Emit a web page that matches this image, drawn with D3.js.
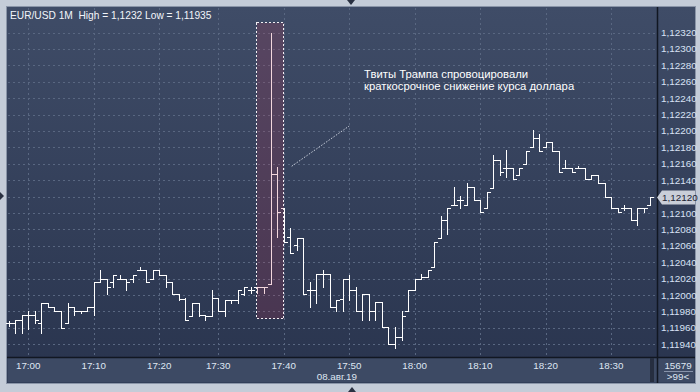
<!DOCTYPE html>
<html>
<head>
<meta charset="utf-8">
<script src="https://cdn.jsdelivr.net/npm/d3@7"></script>
<style>
html, body { margin: 0; padding: 0; background: #c4ccd8; }
svg { display: block; font-family: "Liberation Sans", Arial, sans-serif; }
</style>
</head>
<body>
<svg id="chart" width="700" height="392"></svg>
<script>
// one-minute bars, 16:57 .. 18:36 (17:26 has no bar)
const minutes = [];
for (let m = 16 * 60 + 57; m <= 18 * 60 + 36; m++) {
    if (m === 17 * 60 + 26) continue;
    minutes.push(`${Math.floor(m / 60)}:${String(m % 60).padStart(2, "0")}`);
}

const openP = [
    1.11966, 1.11966, 1.11970, 1.11976, 1.11976, 1.11966, 1.11990, 1.11986, 1.11980, 1.11966,
    1.11986, 1.11980, 1.11980, 1.11986, 1.12016, 1.12020, 1.12016, 1.12020, 1.12020, 1.12019,
    1.12030, 1.12030, 1.12019, 1.12030, 1.12024, 1.12016, 1.12001, 1.11995, 1.11974, 1.11990,
    1.11976, 1.11974, 1.11996, 1.11980, 1.11994, 1.11994, 1.12001, 1.12006, 1.12010, 1.12010,
    1.12013, 1.12148, 1.12106, 1.12071, 1.12061, 1.12070, 1.12006, 1.12006, 1.12026, 1.12026,
    1.11986, 1.11995, 1.12020, 1.12006, 1.11981, 1.12001, 1.11981, 1.11991, 1.11961, 1.11940,
    1.11949, 1.11981, 1.12006, 1.12020, 1.12022, 1.12034, 1.12070, 1.12091, 1.12110, 1.12116,
    1.12110, 1.12132, 1.12116, 1.12106, 1.12131, 1.12165, 1.12155, 1.12155, 1.12146, 1.12160,
    1.12181, 1.12191, 1.12181, 1.12186, 1.12176, 1.12155, 1.12155, 1.12155, 1.12155, 1.12141,
    1.12146, 1.12136, 1.12120, 1.12106, 1.12106, 1.12106, 1.12091, 1.12106, 1.12110
];
const highP = [
    1.11968, 1.11970, 1.11976, 1.11980, 1.11980, 1.11990, 1.11990, 1.11986, 1.11980, 1.11990,
    1.11986, 1.11981, 1.11986, 1.12016, 1.12030, 1.12020, 1.12024, 1.12024, 1.12020, 1.12024,
    1.12034, 1.12030, 1.12030, 1.12030, 1.12024, 1.12016, 1.12001, 1.11996, 1.11990, 1.11990,
    1.11976, 1.12006, 1.11996, 1.11994, 1.11994, 1.12006, 1.12010, 1.12010, 1.12010, 1.12010,
    1.12320, 1.12156, 1.12106, 1.12082, 1.12070, 1.12070, 1.12016, 1.12026, 1.12030, 1.12026,
    1.11994, 1.12020, 1.12025, 1.12010, 1.12001, 1.12001, 1.11991, 1.11991, 1.11961, 1.11961,
    1.11981, 1.12006, 1.12020, 1.12026, 1.12030, 1.12065, 1.12096, 1.12106, 1.12132, 1.12121,
    1.12136, 1.12132, 1.12116, 1.12126, 1.12171, 1.12165, 1.12177, 1.12155, 1.12155, 1.12176,
    1.12201, 1.12196, 1.12186, 1.12186, 1.12176, 1.12165, 1.12155, 1.12157, 1.12155, 1.12146,
    1.12146, 1.12136, 1.12120, 1.12106, 1.12110, 1.12106, 1.12106, 1.12106, 1.12120
];
const lowP = [
    1.11962, 1.11954, 1.11954, 1.11959, 1.11966, 1.11954, 1.11986, 1.11980, 1.11960, 1.11966,
    1.11976, 1.11978, 1.11980, 1.11976, 1.12016, 1.12001, 1.12010, 1.12019, 1.12006, 1.12016,
    1.12030, 1.12016, 1.12019, 1.12024, 1.12010, 1.12001, 1.11994, 1.11970, 1.11974, 1.11974,
    1.11970, 1.11974, 1.11980, 1.11974, 1.11990, 1.11990, 1.12000, 1.12002, 1.12002, 1.12002,
    1.12013, 1.12071, 1.12065, 1.12051, 1.12055, 1.12001, 1.11986, 1.11990, 1.12010, 1.11986,
    1.11980, 1.11980, 1.11994, 1.11981, 1.11970, 1.11970, 1.11970, 1.11961, 1.11940, 1.11935,
    1.11945, 1.11981, 1.12006, 1.12020, 1.12022, 1.12034, 1.12070, 1.12075, 1.12110, 1.12106,
    1.12110, 1.12116, 1.12101, 1.12106, 1.12131, 1.12146, 1.12144, 1.12141, 1.12146, 1.12160,
    1.12181, 1.12176, 1.12181, 1.12176, 1.12150, 1.12155, 1.12150, 1.12155, 1.12141, 1.12141,
    1.12136, 1.12120, 1.12106, 1.12101, 1.12104, 1.12091, 1.12086, 1.12101, 1.12110
];
const closeP = [
    1.11966, 1.11970, 1.11976, 1.11976, 1.11970, 1.11990, 1.11986, 1.11980, 1.11960, 1.11986,
    1.11980, 1.11980, 1.11986, 1.12016, 1.12020, 1.12010, 1.12024, 1.12020, 1.12016, 1.12024,
    1.12030, 1.12016, 1.12030, 1.12024, 1.12016, 1.12001, 1.11995, 1.11970, 1.11990, 1.11976,
    1.11974, 1.11996, 1.11980, 1.11994, 1.11994, 1.12006, 1.12010, 1.12006, 1.12010, 1.12010,
    1.12148, 1.12101, 1.12065, 1.12051, 1.12070, 1.12001, 1.12006, 1.12026, 1.12026, 1.11986,
    1.11994, 1.12020, 1.12006, 1.11981, 1.12001, 1.11981, 1.11991, 1.11961, 1.11940, 1.11949,
    1.11975, 1.12006, 1.12020, 1.12022, 1.12030, 1.12065, 1.12091, 1.12106, 1.12110, 1.12116,
    1.12132, 1.12116, 1.12101, 1.12126, 1.12165, 1.12150, 1.12155, 1.12141, 1.12155, 1.12176,
    1.12191, 1.12176, 1.12186, 1.12176, 1.12150, 1.12155, 1.12150, 1.12155, 1.12141, 1.12146,
    1.12136, 1.12120, 1.12106, 1.12101, 1.12106, 1.12091, 1.12106, 1.12106, 1.12120
];

const priceTicks = [
    1.1194, 1.1196, 1.1198, 1.1200, 1.1202, 1.1204, 1.1206, 1.1208, 1.1210, 1.1212,
    1.1214, 1.1216, 1.1218, 1.1220, 1.1222, 1.1224, 1.1226, 1.1228, 1.1230, 1.1232
];
const timeTicks = ["17:00", "17:10", "17:20", "17:30", "17:40", "17:50", "18:00", "18:10", "18:20", "18:30"];
const dateLabel = "08.авг.19";
const headerText = "EUR/USD 1M  High = 1,1232 Low = 1,11935";
const lastPrice = 1.1212;
const noteLines = ["Твиты Трампа спровоцировали", "краткосрочное снижение курса доллара"];
const boxFrom = "17:36", boxTo = "17:40";
const boxTop = 1.12333, boxBottom = 1.11972;
const counterText = ["15679", ">99<"];

const bars = minutes.map((t, i) => ({
    t, o: openP[i], h: highP[i], l: lowP[i], c: closeP[i]
}));

const plot = { left: 8, right: 657, top: 8, bottom: 357 };
const svg = d3.select("#chart");

const x = d3.scalePoint()
    .domain(minutes)
    .range([8.6, 650.4]);
const y = d3.scaleLinear()
    .domain([1.1194, 1.1232])
    .range([344.3, 32.5]);

const fmtPrice = v => d3.format(".5f")(v).replace(".", ",");
const px = v => Math.round(v) + 0.5;

// background gradient
const defs = svg.append("defs");
const grad = defs.append("linearGradient")
    .attr("id", "bg").attr("x1", 0).attr("y1", 0).attr("x2", 0).attr("y2", 1);
grad.append("stop").attr("offset", "0%").attr("stop-color", "#3f4c67");
grad.append("stop").attr("offset", "100%").attr("stop-color", "#29344e");

// frame
svg.append("rect")
    .attr("x", 0).attr("y", 0).attr("width", 700).attr("height", 392)
    .attr("fill", "#c4ccd8");
svg.append("rect")
    .attr("x", 7).attr("y", 7).attr("width", 688).attr("height", 376)
    .attr("fill", "url(#bg)");
svg.append("rect")
    .attr("x", 7.5).attr("y", 357.5).attr("width", 687).attr("height", 25)
    .attr("fill", "#3d4a64");
svg.append("rect")
    .attr("x", 6.5).attr("y", 6.5).attr("width", 689).attr("height", 377)
    .attr("fill", "none").attr("stroke", "#8a95a8");

// little arrows on frame
svg.append("path").attr("d", "M347,0 L355,0 L351,5 Z").attr("fill", "#2a3142");
svg.append("path").attr("d", "M348,392 L356,392 L352,387 Z").attr("fill", "#2a3142");
svg.append("path").attr("d", "M0,192 L0,200 L4,196 Z").attr("fill", "#2a3142");

// grid
const grid = svg.append("g")
    .attr("stroke", "#596781")
    .attr("stroke-dasharray", "2,3")
    .attr("shape-rendering", "crispEdges");
grid.selectAll(".hg").data(priceTicks).enter().append("line")
    .attr("x1", plot.left).attr("x2", plot.right)
    .attr("y1", d => px(y(d))).attr("y2", d => px(y(d)));
grid.selectAll(".vg").data(timeTicks).enter().append("line")
    .attr("y1", plot.top).attr("y2", plot.bottom)
    .attr("x1", d => px(x(d))).attr("x2", d => px(x(d)));

// OHLC bars
const barG = svg.append("g")
    .attr("stroke", "#ffffff")
    .attr("stroke-width", 1)
    .attr("shape-rendering", "crispEdges");
const bar = barG.selectAll("g").data(bars).enter().append("g");
bar.append("line")
    .attr("x1", d => px(x(d.t))).attr("x2", d => px(x(d.t)))
    .attr("y1", d => Math.round(y(d.h))).attr("y2", d => Math.round(y(d.l)) + 1);
bar.append("line")
    .attr("x1", d => Math.round(x(d.t)) - 3).attr("x2", d => Math.round(x(d.t)))
    .attr("y1", d => px(y(d.o))).attr("y2", d => px(y(d.o)));
bar.append("line")
    .attr("x1", d => Math.round(x(d.t)) + 1).attr("x2", d => Math.round(x(d.t)) + 4)
    .attr("y1", d => px(y(d.c))).attr("y2", d => px(y(d.c)));

// highlight box over the spike
const bx0 = Math.round(x(boxFrom)) - 0.5;
const bx1 = Math.round(x(boxTo)) - 0.5;
svg.append("rect")
    .attr("x", bx0).attr("y", px(y(boxTop)))
    .attr("width", bx1 - bx0)
    .attr("height", Math.round(y(boxBottom) - y(boxTop)))
    .attr("fill", "rgba(190,50,80,0.2)")
    .attr("stroke", "#f2eef2")
    .attr("stroke-dasharray", "2,2")
    .attr("shape-rendering", "crispEdges");

// annotation
svg.append("line")
    .attr("x1", x("17:41") + 1.5).attr("y1", y(1.12157))
    .attr("x2", x("17:50")).attr("y2", y(1.12206))
    .attr("stroke", "#c9cfdb")
    .attr("stroke-dasharray", "1.5,1.5");
svg.append("g").selectAll("text").data(noteLines).enter().append("text")
    .attr("x", 364)
    .attr("y", (d, i) => 77.5 + i * 12)
    .attr("fill", "#ffffff")
    .attr("font-size", "11.3px")
    .text(d => d);

// header
svg.append("text")
    .attr("x", 10).attr("y", 18.5)
    .attr("fill", "#f2f5fa")
    .attr("font-size", "10.2px")
    .attr("xml:space", "preserve")
    .style("white-space", "pre")
    .text(headerText);

// axes separators
svg.append("line")
    .attr("x1", plot.right + 0.5).attr("x2", plot.right + 0.5)
    .attr("y1", 7).attr("y2", 383)
    .attr("stroke", "#111722").attr("stroke-width", 1.5);
svg.append("line")
    .attr("x1", 7).attr("x2", 695)
    .attr("y1", plot.bottom + 0.5).attr("y2", plot.bottom + 0.5)
    .attr("stroke", "#111722").attr("stroke-width", 1.5);
svg.append("rect")
    .attr("x", 650).attr("y", 358).attr("width", 4).attr("height", 24)
    .attr("fill", "#262e40");

// price axis labels
svg.append("g").selectAll("text").data(priceTicks.filter(v => Math.abs(v - lastPrice) > 1e-7))
    .enter().append("text")
    .attr("x", 661)
    .attr("y", d => y(d) + 3.5)
    .attr("fill", "#d8e2f4")
    .attr("font-size", "9.9px")
    .text(fmtPrice);

// last price marker
const ly = Math.round(y(lastPrice));
svg.append("path")
    .attr("d", `M657,${ly + 0.5} L662,${ly - 6.5} L695,${ly - 6.5} L695,${ly + 7.5} L662,${ly + 7.5} Z`)
    .attr("fill", "#c9ced8");
svg.append("text")
    .attr("x", 662).attr("y", ly + 4)
    .attr("fill", "#1b2233")
    .attr("font-size", "9.9px")
    .text(fmtPrice(lastPrice));

// time axis labels
svg.append("g").selectAll("text").data(timeTicks).enter().append("text")
    .attr("x", d => x(d))
    .attr("y", 369)
    .attr("text-anchor", "middle")
    .attr("fill", "#dfe6f2")
    .attr("font-size", "9.8px")
    .text(d => d);
svg.append("text")
    .attr("x", 357).attr("y", 380)
    .attr("text-anchor", "end")
    .attr("fill", "#dfe6f2")
    .attr("font-size", "9.8px")
    .text(dateLabel);

// counter box
svg.append("text")
    .attr("x", 678).attr("y", 369)
    .attr("text-anchor", "middle")
    .attr("fill", "#dfe6f2")
    .attr("font-size", "9.8px")
    .text(counterText[0]);
svg.append("line")
    .attr("x1", 664).attr("x2", 693).attr("y1", 371.5).attr("y2", 371.5)
    .attr("stroke", "#8793aa");
svg.append("text")
    .attr("x", 678).attr("y", 380)
    .attr("text-anchor", "middle")
    .attr("fill", "#dfe6f2")
    .attr("font-size", "9.8px")
    .text(counterText[1]);
</script>
</body>
</html>
